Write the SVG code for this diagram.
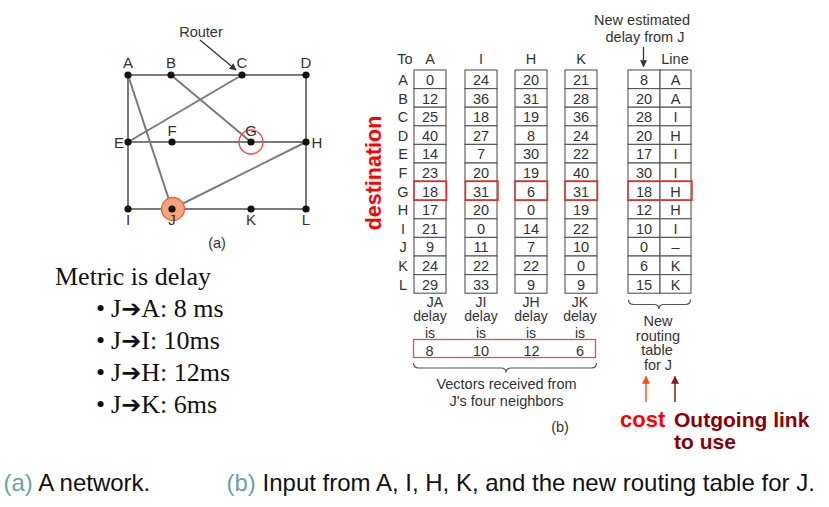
<svg xmlns="http://www.w3.org/2000/svg" width="829" height="507" viewBox="0 0 829 507">
<defs>
<style>
.s{font-family:"Liberation Sans",Arial,sans-serif;font-size:14.5px;fill:#333;text-anchor:middle}
.t{font-family:"Liberation Sans",Arial,sans-serif;font-size:14px;fill:#333;text-anchor:middle}
.n{font-family:"Liberation Sans",Arial,sans-serif;font-size:15px;fill:#333;text-anchor:middle}
.edge{stroke:#7a7a7a;stroke-width:2;fill:none}
.dot{fill:#111}
.cell{fill:#fff;stroke:#555;stroke-width:1.1}
.hl{fill:none;stroke:#e53030;stroke-width:1.5}
.serif{font-family:"Liberation Serif","Times New Roman",serif;font-size:26px;fill:#111}
.ar{font-family:"DejaVu Sans",sans-serif;font-size:24px}
.cap{font-family:"Liberation Sans",Arial,sans-serif;font-size:24px;fill:#111}
.teal{fill:#6aa3a3}
.brace{fill:none;stroke:#555;stroke-width:1.2}
</style>
<marker id="ah" viewBox="0 0 10 10" refX="9" refY="5" markerWidth="7" markerHeight="7" orient="auto" markerUnits="userSpaceOnUse"><path d="M0,0 L10,5 L0,10 z" fill="#333"/></marker>
<marker id="ahO" viewBox="0 0 10 10" refX="9" refY="5" markerWidth="8" markerHeight="8" orient="auto" markerUnits="userSpaceOnUse"><path d="M0,0 L10,5 L0,10 z" fill="#ff4a1a"/></marker>
<marker id="ahD" viewBox="0 0 10 10" refX="9" refY="5" markerWidth="8" markerHeight="8" orient="auto" markerUnits="userSpaceOnUse"><path d="M0,0 L10,5 L0,10 z" fill="#8b1a1a"/></marker>
</defs>
<rect width="829" height="507" fill="#fff"/>

<!-- network connectors -->
<g id="connectors">
<line class="edge" x1="128" y1="75" x2="306" y2="75"/>
<line class="edge" x1="128" y1="75" x2="128" y2="209"/>
<line class="edge" x1="306" y1="75" x2="306" y2="209"/>
<line class="edge" x1="128" y1="142" x2="306" y2="142"/>
<line class="edge" x1="128" y1="209" x2="306" y2="209"/>
<line class="edge" x1="171" y1="75" x2="251" y2="142"/>
<line class="edge" x1="242" y1="75" x2="128" y2="142"/>
<line class="edge" x1="128" y1="75" x2="172" y2="209"/>
<line class="edge" x1="172" y1="209" x2="306" y2="142"/>
<line x1="200" y1="40" x2="236" y2="70" stroke="#333" stroke-width="1.3" marker-end="url(#ah)"/>
</g>

<g id="highlights">
<circle cx="251" cy="142" r="12" fill="none" stroke="#f04848" stroke-width="1.3"/>
<circle cx="173" cy="209" r="11.5" fill="#f6a47c" stroke="#e8603a" stroke-width="1.3"/>
</g>

<g id="node-A"><circle class="dot" cx="128" cy="75" r="3.6"/><text class="n" x="128" y="67.5">A</text></g>
<g id="node-B"><circle class="dot" cx="171" cy="75" r="3.6"/><text class="n" x="171" y="67.5">B</text></g>
<g id="node-C"><circle class="dot" cx="242" cy="75" r="3.6"/><text class="n" x="242" y="67.5">C</text></g>
<g id="node-D"><circle class="dot" cx="306" cy="75" r="3.6"/><text class="n" x="306" y="67.5">D</text></g>
<g id="node-E"><circle class="dot" cx="128" cy="142" r="3.6"/><text class="n" x="119" y="147.5">E</text></g>
<g id="node-F"><circle class="dot" cx="172" cy="142" r="3.6"/><text class="n" x="172" y="136">F</text></g>
<g id="node-G"><circle class="dot" cx="251" cy="142" r="3.6"/><text class="n" x="251" y="136">G</text></g>
<g id="node-H"><circle class="dot" cx="306" cy="142" r="3.6"/><text class="n" x="317" y="147.5">H</text></g>
<g id="node-I"><circle class="dot" cx="128" cy="209" r="3.6"/><text class="n" x="128" y="225">I</text></g>
<g id="node-J"><circle class="dot" cx="172" cy="209" r="3.6"/><text class="n" x="172" y="225">J</text></g>
<g id="node-K"><circle class="dot" cx="251" cy="209" r="3.6"/><text class="n" x="251" y="225">K</text></g>
<g id="node-L"><circle class="dot" cx="306" cy="209" r="3.6"/><text class="n" x="306" y="225">L</text></g>
<text class="s" x="201" y="36.5">Router</text>
<text class="s" x="217" y="248">(a)</text>

<!-- left notes -->
<g id="notes">
<text class="serif" x="55" y="285">Metric is delay</text>
<text class="serif" x="96" y="317">•</text><text class="serif" x="111" y="317">J<tspan class="ar">➔</tspan>A: 8 ms</text>
<text class="serif" x="96" y="349">•</text><text class="serif" x="111" y="349">J<tspan class="ar">➔</tspan>I: 10ms</text>
<text class="serif" x="96" y="380.5">•</text><text class="serif" x="111" y="380.5">J<tspan class="ar">➔</tspan>H: 12ms</text>
<text class="serif" x="96" y="412.5">•</text><text class="serif" x="111" y="412.5">J<tspan class="ar">➔</tspan>K: 6ms</text>
</g>

<!-- tables -->
<g id="row-labels">
<text class="s" x="405" y="64">To</text>
<text class="s" x="403" y="85">A</text>
<text class="s" x="403" y="103.6">B</text>
<text class="s" x="403" y="122.2">C</text>
<text class="s" x="403" y="140.8">D</text>
<text class="s" x="403" y="159.4">E</text>
<text class="s" x="403" y="178">F</text>
<text class="s" x="403" y="196.6">G</text>
<text class="s" x="403" y="215.2">H</text>
<text class="s" x="403" y="233.8">I</text>
<text class="s" x="403" y="252.4">J</text>
<text class="s" x="403" y="271">K</text>
<text class="s" x="403" y="289.6">L</text>
</g>
<text x="381" y="173" transform="rotate(-90 381 173)" font-family="'Liberation Sans',Arial,sans-serif" font-size="21.5px" font-weight="bold" fill="#ff0000" text-anchor="middle">destination</text>

<g id="table-A">
<text class="s" x="430" y="64">A</text>
<rect class="cell" x="414" y="70" width="32" height="18.6"/><rect class="cell" x="414" y="88.6" width="32" height="18.6"/><rect class="cell" x="414" y="107.2" width="32" height="18.6"/><rect class="cell" x="414" y="125.8" width="32" height="18.6"/><rect class="cell" x="414" y="144.4" width="32" height="18.6"/><rect class="cell" x="414" y="163" width="32" height="18.6"/><rect class="cell" x="414" y="181.6" width="32" height="18.6"/><rect class="cell" x="414" y="200.2" width="32" height="18.6"/><rect class="cell" x="414" y="218.8" width="32" height="18.6"/><rect class="cell" x="414" y="237.4" width="32" height="18.6"/><rect class="cell" x="414" y="256" width="32" height="18.6"/><rect class="cell" x="414" y="274.6" width="32" height="18.6"/>
<text class="s" x="430" y="85">0</text><text class="s" x="430" y="103.6">12</text><text class="s" x="430" y="122.2">25</text><text class="s" x="430" y="140.8">40</text><text class="s" x="430" y="159.4">14</text><text class="s" x="430" y="178">23</text><text class="s" x="430" y="196.6">18</text><text class="s" x="430" y="215.2">17</text><text class="s" x="430" y="233.8">21</text><text class="s" x="430" y="252.4">9</text><text class="s" x="430" y="271">24</text><text class="s" x="430" y="289.6">29</text>
<rect class="hl" x="414" y="181" width="32.5" height="19.2"/>
</g>
<g id="table-I">
<text class="s" x="481" y="64">I</text>
<rect class="cell" x="465" y="70" width="32" height="18.6"/><rect class="cell" x="465" y="88.6" width="32" height="18.6"/><rect class="cell" x="465" y="107.2" width="32" height="18.6"/><rect class="cell" x="465" y="125.8" width="32" height="18.6"/><rect class="cell" x="465" y="144.4" width="32" height="18.6"/><rect class="cell" x="465" y="163" width="32" height="18.6"/><rect class="cell" x="465" y="181.6" width="32" height="18.6"/><rect class="cell" x="465" y="200.2" width="32" height="18.6"/><rect class="cell" x="465" y="218.8" width="32" height="18.6"/><rect class="cell" x="465" y="237.4" width="32" height="18.6"/><rect class="cell" x="465" y="256" width="32" height="18.6"/><rect class="cell" x="465" y="274.6" width="32" height="18.6"/>
<text class="s" x="481" y="85">24</text><text class="s" x="481" y="103.6">36</text><text class="s" x="481" y="122.2">18</text><text class="s" x="481" y="140.8">27</text><text class="s" x="481" y="159.4">7</text><text class="s" x="481" y="178">20</text><text class="s" x="481" y="196.6">31</text><text class="s" x="481" y="215.2">20</text><text class="s" x="481" y="233.8">0</text><text class="s" x="481" y="252.4">11</text><text class="s" x="481" y="271">22</text><text class="s" x="481" y="289.6">33</text>
<rect class="hl" x="465.5" y="181" width="32.5" height="19.2"/>
</g>
<g id="table-H">
<text class="s" x="531" y="64">H</text>
<rect class="cell" x="515" y="70" width="32" height="18.6"/><rect class="cell" x="515" y="88.6" width="32" height="18.6"/><rect class="cell" x="515" y="107.2" width="32" height="18.6"/><rect class="cell" x="515" y="125.8" width="32" height="18.6"/><rect class="cell" x="515" y="144.4" width="32" height="18.6"/><rect class="cell" x="515" y="163" width="32" height="18.6"/><rect class="cell" x="515" y="181.6" width="32" height="18.6"/><rect class="cell" x="515" y="200.2" width="32" height="18.6"/><rect class="cell" x="515" y="218.8" width="32" height="18.6"/><rect class="cell" x="515" y="237.4" width="32" height="18.6"/><rect class="cell" x="515" y="256" width="32" height="18.6"/><rect class="cell" x="515" y="274.6" width="32" height="18.6"/>
<text class="s" x="531" y="85">20</text><text class="s" x="531" y="103.6">31</text><text class="s" x="531" y="122.2">19</text><text class="s" x="531" y="140.8">8</text><text class="s" x="531" y="159.4">30</text><text class="s" x="531" y="178">19</text><text class="s" x="531" y="196.6">6</text><text class="s" x="531" y="215.2">0</text><text class="s" x="531" y="233.8">14</text><text class="s" x="531" y="252.4">7</text><text class="s" x="531" y="271">22</text><text class="s" x="531" y="289.6">9</text>
<rect class="hl" x="515" y="181" width="32.5" height="19.2"/>
</g>
<g id="table-K">
<text class="s" x="581" y="64">K</text>
<rect class="cell" x="565" y="70" width="32" height="18.6"/><rect class="cell" x="565" y="88.6" width="32" height="18.6"/><rect class="cell" x="565" y="107.2" width="32" height="18.6"/><rect class="cell" x="565" y="125.8" width="32" height="18.6"/><rect class="cell" x="565" y="144.4" width="32" height="18.6"/><rect class="cell" x="565" y="163" width="32" height="18.6"/><rect class="cell" x="565" y="181.6" width="32" height="18.6"/><rect class="cell" x="565" y="200.2" width="32" height="18.6"/><rect class="cell" x="565" y="218.8" width="32" height="18.6"/><rect class="cell" x="565" y="237.4" width="32" height="18.6"/><rect class="cell" x="565" y="256" width="32" height="18.6"/><rect class="cell" x="565" y="274.6" width="32" height="18.6"/>
<text class="s" x="581" y="85">21</text><text class="s" x="581" y="103.6">28</text><text class="s" x="581" y="122.2">36</text><text class="s" x="581" y="140.8">24</text><text class="s" x="581" y="159.4">22</text><text class="s" x="581" y="178">40</text><text class="s" x="581" y="196.6">31</text><text class="s" x="581" y="215.2">19</text><text class="s" x="581" y="233.8">22</text><text class="s" x="581" y="252.4">10</text><text class="s" x="581" y="271">0</text><text class="s" x="581" y="289.6">9</text>
<rect class="hl" x="565" y="181" width="32.5" height="19.2"/>
</g>

<g id="table-new">
<text class="s" x="642" y="25">New estimated</text>
<text class="s" x="645" y="41.5">delay from J</text>
<line x1="643.5" y1="47" x2="643.5" y2="66.5" stroke="#333" stroke-width="1.3" marker-end="url(#ah)"/>
<text class="s" x="675" y="63.5">Line</text>
<rect class="cell" x="628" y="70" width="32" height="18.6"/><rect class="cell" x="628" y="88.6" width="32" height="18.6"/><rect class="cell" x="628" y="107.2" width="32" height="18.6"/><rect class="cell" x="628" y="125.8" width="32" height="18.6"/><rect class="cell" x="628" y="144.4" width="32" height="18.6"/><rect class="cell" x="628" y="163" width="32" height="18.6"/><rect class="cell" x="628" y="181.6" width="32" height="18.6"/><rect class="cell" x="628" y="200.2" width="32" height="18.6"/><rect class="cell" x="628" y="218.8" width="32" height="18.6"/><rect class="cell" x="628" y="237.4" width="32" height="18.6"/><rect class="cell" x="628" y="256" width="32" height="18.6"/><rect class="cell" x="628" y="274.6" width="32" height="18.6"/>
<rect class="cell" x="660" y="70" width="31" height="18.6"/><rect class="cell" x="660" y="88.6" width="31" height="18.6"/><rect class="cell" x="660" y="107.2" width="31" height="18.6"/><rect class="cell" x="660" y="125.8" width="31" height="18.6"/><rect class="cell" x="660" y="144.4" width="31" height="18.6"/><rect class="cell" x="660" y="163" width="31" height="18.6"/><rect class="cell" x="660" y="181.6" width="31" height="18.6"/><rect class="cell" x="660" y="200.2" width="31" height="18.6"/><rect class="cell" x="660" y="218.8" width="31" height="18.6"/><rect class="cell" x="660" y="237.4" width="31" height="18.6"/><rect class="cell" x="660" y="256" width="31" height="18.6"/><rect class="cell" x="660" y="274.6" width="31" height="18.6"/>
<text class="s" x="644" y="85">8</text><text class="s" x="644" y="103.6">20</text><text class="s" x="644" y="122.2">28</text><text class="s" x="644" y="140.8">20</text><text class="s" x="644" y="159.4">17</text><text class="s" x="644" y="178">30</text><text class="s" x="644" y="196.6">18</text><text class="s" x="644" y="215.2">12</text><text class="s" x="644" y="233.8">10</text><text class="s" x="644" y="252.4">0</text><text class="s" x="644" y="271">6</text><text class="s" x="644" y="289.6">15</text>
<text class="s" x="675.5" y="85">A</text><text class="s" x="675.5" y="103.6">A</text><text class="s" x="675.5" y="122.2">I</text><text class="s" x="675.5" y="140.8">H</text><text class="s" x="675.5" y="159.4">I</text><text class="s" x="675.5" y="178">I</text><text class="s" x="675.5" y="196.6">H</text><text class="s" x="675.5" y="215.2">H</text><text class="s" x="675.5" y="233.8">I</text><text class="s" x="675.5" y="252.4">–</text><text class="s" x="675.5" y="271">K</text><text class="s" x="675.5" y="289.6">K</text>
<rect class="hl" x="628" y="181" width="64" height="19.2"/>
<path class="brace" d="M628.5,299.5 q0,5 5,5 L654,304.5 q5,0 5,4.5 q0,-4.5 5,-4.5 L685.5,304.5 q5,0 5,-5"/>
<text class="s" x="658" y="325.5">New</text>
<text class="s" x="658" y="340.5">routing</text>
<text class="s" x="657" y="355">table</text>
<text class="s" x="658" y="369.5">for J</text>
</g>

<g id="delays">
<text class="t" y="307"><tspan x="435">JA</tspan><tspan x="430" dy="14">delay</tspan><tspan x="430" dy="16.5">is</tspan></text>
<text class="t" y="307"><tspan x="481">JI</tspan><tspan x="481" dy="14">delay</tspan><tspan x="481" dy="16.5">is</tspan></text>
<text class="t" y="307"><tspan x="531">JH</tspan><tspan x="531" dy="14">delay</tspan><tspan x="531" dy="16.5">is</tspan></text>
<text class="t" y="307"><tspan x="580">JK</tspan><tspan x="580" dy="14">delay</tspan><tspan x="580" dy="16.5">is</tspan></text>
<rect x="413.5" y="339.5" width="182" height="18" fill="#fff" stroke="#e85050" stroke-width="1.3"/>
<text class="s" x="429.5" y="355.5">8</text><text class="s" x="481" y="355.5">10</text><text class="s" x="531.5" y="355.5">12</text><text class="s" x="580" y="355.5">6</text>
<path class="brace" d="M413.5,363 q0,5 5,5 L501,368 q5,0 5,4.5 q0,-4.5 5,-4.5 L591.5,368 q5,0 5,-5"/>
<text class="s" x="506.5" y="388.5">Vectors received from</text>
<text class="s" x="506.5" y="406">J's four neighbors</text>
<text class="s" x="560" y="431.5">(b)</text>
</g>

<g id="annotations">
<line x1="646" y1="402" x2="646" y2="376.5" stroke="#ff4a1a" stroke-width="1.5" marker-end="url(#ahO)"/>
<line x1="675" y1="402" x2="675" y2="376.5" stroke="#8b1a1a" stroke-width="1.5" marker-end="url(#ahD)"/>
<text x="620" y="426.5" font-family="'Liberation Sans',Arial,sans-serif" font-size="22px" font-weight="bold" fill="#ff0000">cost</text>
<text x="674" y="426.5" font-family="'Liberation Sans',Arial,sans-serif" font-size="21px" font-weight="bold" fill="#8b0000">Outgoing link</text>
<text x="674" y="448.5" font-family="'Liberation Sans',Arial,sans-serif" font-size="21px" font-weight="bold" fill="#8b0000">to use</text>
</g>

<g id="captions">
<text class="cap" x="3.5" y="491"><tspan class="teal">(a)</tspan> A network.</text>
<text class="cap" x="226.5" y="491"><tspan class="teal">(b)</tspan> Input from A, I, H, K, and the new routing table for J.</text>
</g>
</svg>
